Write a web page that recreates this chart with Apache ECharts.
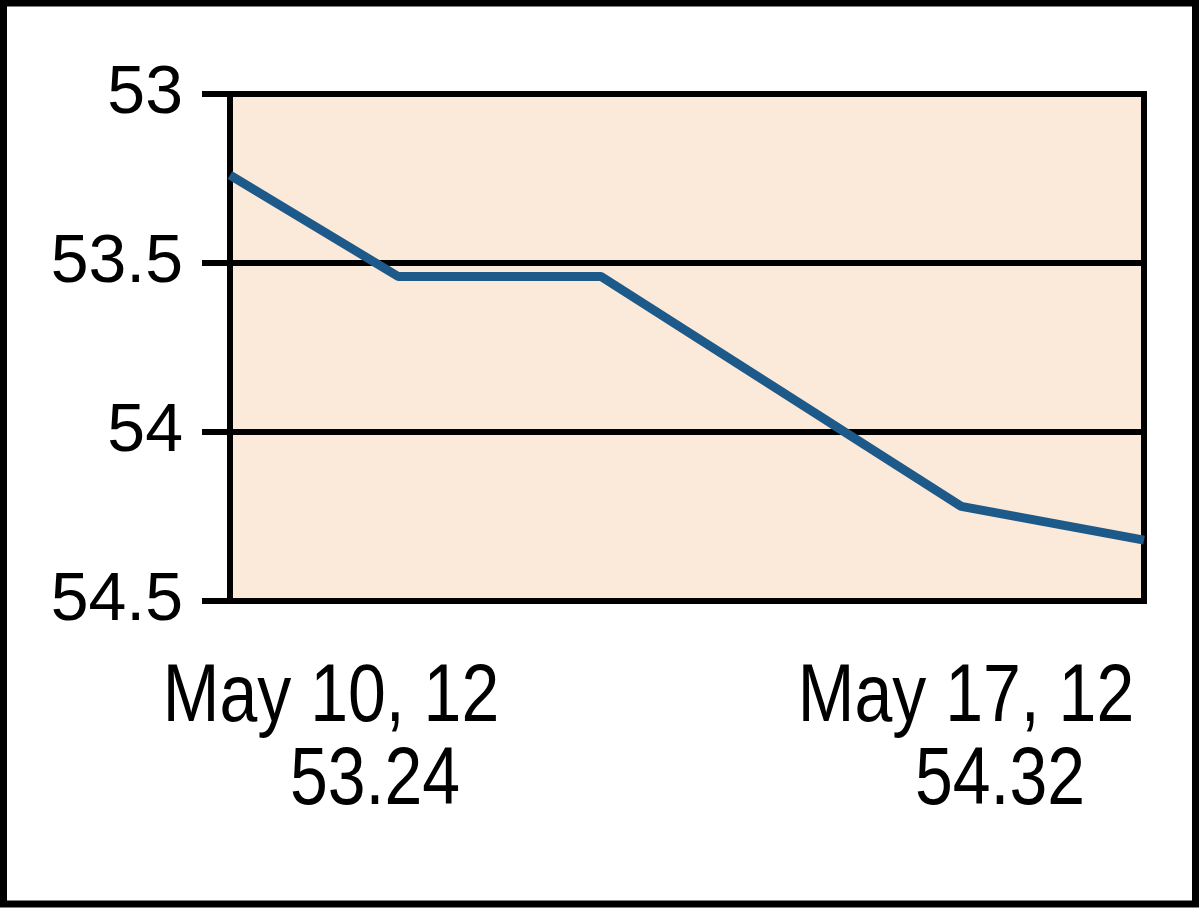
<!DOCTYPE html>
<html>
<head>
<meta charset="utf-8">
<script src="https://cdn.jsdelivr.net/npm/echarts@6/dist/echarts.min.js"></script>
<style>
html,body{margin:0;padding:0;background:#fff;}
#chart{width:1200px;height:908px;}
</style>
</head>
<body>
<div id="chart"></div>
<script>
// Data (x = trading-day position from May 10, 2012; y = value)
var xPositions = [0, 0.92, 2.03, 4.0, 5];
var values = [53.24, 53.54, 53.54, 54.22, 54.32];
var dateLabels = ['May 10, 12', 'May 17, 12'];
var yTicks = [53, 53.5, 54, 54.5];

var FONT = "'Liberation Sans', Arial, sans-serif";
var seriesData = xPositions.map(function (x, i) { return [x, values[i]]; });

var chart = echarts.init(document.getElementById('chart'), null, {renderer: 'canvas'});
chart.setOption({
  backgroundColor: '#ffffff',
  animation: false,
  grid: {
    left: 230, right: 56, top: 94, bottom: 307,
    show: true, backgroundColor: '#fbe9d9', borderColor: '#000', borderWidth: 6,
    containLabel: false
  },
  xAxis: {
    type: 'value', min: 0, max: 5,
    axisLine: {show: false}, axisTick: {show: false},
    axisLabel: {show: false}, splitLine: {show: false}
  },
  yAxis: {
    type: 'value', inverse: true,
    min: yTicks[0], max: yTicks[yTicks.length - 1], interval: 0.5,
    axisLine: {show: true, lineStyle: {color: '#000', width: 6}},
    axisTick: {show: true, length: 28, lineStyle: {color: '#000', width: 6}},
    axisLabel: {color: '#000', fontSize: 68, fontFamily: FONT, margin: 47},
    splitLine: {show: true, lineStyle: {color: '#000', width: 6}}
  },
  series: [{
    type: 'line', data: seriesData, showSymbol: false, z: 5,
    lineStyle: {color: '#1d5a8a', width: 9}
  }],
  graphic: [
    {type: 'text', x: 331, y: 698, scaleY: 1.2,
     style: {text: dateLabels[0], x: 0, y: 0, align: 'center', verticalAlign: 'middle', font: '68px ' + FONT, fill: '#000'}},
    {type: 'text', x: 375, y: 781, scaleY: 1.2,
     style: {text: values[0].toFixed(2), x: 0, y: 0, align: 'center', verticalAlign: 'middle', font: '68px ' + FONT, fill: '#000'}},
    {type: 'text', x: 966, y: 698, scaleY: 1.2,
     style: {text: dateLabels[1], x: 0, y: 0, align: 'center', verticalAlign: 'middle', font: '68px ' + FONT, fill: '#000'}},
    {type: 'text', x: 1000, y: 781, scaleY: 1.2,
     style: {text: values[values.length - 1].toFixed(2), x: 0, y: 0, align: 'center', verticalAlign: 'middle', font: '68px ' + FONT, fill: '#000'}},
    {type: 'rect', silent: true, z: 100,
     shape: {x: 3.5, y: 3, width: 1192, height: 901},
     style: {fill: 'none', stroke: '#000', lineWidth: 7}}
  ]
});
</script>
</body>
</html>
